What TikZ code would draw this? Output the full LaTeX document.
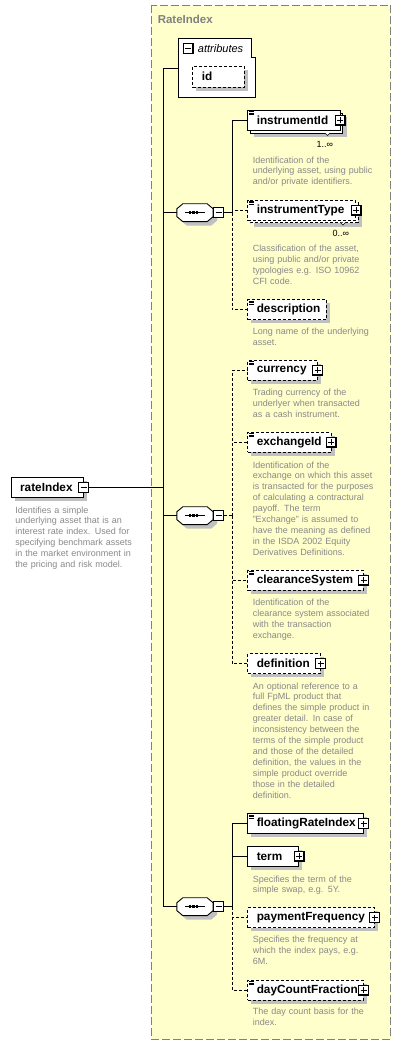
\documentclass[tikz,border=0pt]{standalone}
\usepackage{fontspec}
\setmainfont{Liberation Sans}
\definecolor{grpfill}{HTML}{FFFFCC}
\definecolor{doctext}{HTML}{888888}
\definecolor{headtext}{HTML}{808080}
\definecolor{shadowgray}{HTML}{C0C0C0}

\begin{document}
\begin{tikzpicture}[x=1pt,y=-1pt,line width=0.9pt,
  elem/.style={draw,fill=white,anchor=north west,minimum height=20pt,inner xsep=9pt,inner ysep=0pt,text width=#1,align=left,font=\fontsize{11.8}{14}\selectfont\bfseries},
  opt/.style={dash pattern=on 3pt off 2pt},
  docmark/.style={path picture={\foreach \k in {1.3,2.8,4.3} \draw[solid,line width=0.7pt] ([xshift=1.5pt,yshift=-\k pt]path picture bounding box.north west) -- ++(5pt,0pt);}},
  iconedge/.style={draw,solid,fill=white,minimum width=10pt,minimum height=10pt,inner sep=0pt,line width=0.8pt},
  expandbox/.style={iconedge,path picture={
      \draw[line width=2pt] (path picture bounding box.north east) -- (path picture bounding box.south east) -- (path picture bounding box.south west);
      \draw[line width=0.8pt] ([xshift=-3pt]path picture bounding box.center) -- ([xshift=3pt]path picture bounding box.center) ([yshift=-3pt]path picture bounding box.center) -- ([yshift=3pt]path picture bounding box.center);}},
  collapsebox/.style={iconedge,path picture={
      \draw[line width=2pt] (path picture bounding box.north east) -- (path picture bounding box.south east) -- (path picture bounding box.south west);
      \draw[line width=0.8pt] ([xshift=-3pt]path picture bounding box.center) -- ([xshift=3pt]path picture bounding box.center);}},
  seqnode/.style={minimum width=35.4pt,minimum height=17pt,inner sep=0pt},
  seqpath/.style n args={3}{insert path={([shift={(#2,#3+5pt)}]#1.south west) -- ([shift={(#2,#3-5pt)}]#1.north west) -- ([shift={(#2+6pt,#3)}]#1.north west) -- ([shift={(#2-6pt,#3)}]#1.north east) -- ([shift={(#2,#3-5pt)}]#1.north east) -- ([shift={(#2,#3+5pt)}]#1.south east) -- ([shift={(#2-6pt,#3)}]#1.south east) -- ([shift={(#2+6pt,#3)}]#1.south west) -- cycle}},
  desc/.style={anchor=base west,inner sep=0pt,text width=140pt,align=left,font=\fontsize{9}{10.9}\selectfont,text=doctext},
  multi/.style={anchor=base east,inner sep=0pt,font=\fontsize{9}{11}\selectfont}]

\useasboundingbox (0,0) rectangle (402,1045);

% group RateIndex
\draw[headtext,line width=1pt,dash pattern=on 8pt off 3pt,fill=grpfill] (151,5.3) rectangle (390.7,1039);
\node[anchor=base west,inner sep=0pt,text=headtext,font=\fontsize{11.5}{14}\selectfont\bfseries] (groupLabel) at (157.3,23.3) {RateIndex};

% shadows
\fill[shadowgray] (14.7,481.3) rectangle (86.7,501.3);
\fill[shadowgray] (254.3,117) rectangle (346.5,137);
\draw[fill=white] (250.3,113) rectangle (342.5,133);
\fill[shadowgray] (254.3,206.5) rectangle (362,226.5);
\draw[fill=white,opt] (250.3,202.5) rectangle (358,222.5);
\fill[shadowgray] (251.3,303.3) rectangle (329.7,323.3);
\fill[shadowgray] (251.3,364) rectangle (320.7,384);
\fill[shadowgray] (251.3,436) rectangle (334.5,456);
\fill[shadowgray] (251.3,574) rectangle (366.7,594);
\fill[shadowgray] (251.3,657.3) rectangle (323.7,677.3);
\fill[shadowgray] (251.3,817.3) rectangle (366.7,837.3);
\fill[shadowgray] (251.3,850) rectangle (302,870);
\fill[shadowgray] (251.3,911.3) rectangle (377.8,931.3);
\fill[shadowgray] (251.3,984) rectangle (366.8,1004);

% root element
\node[elem=54pt] (rateIndex) at (10.7,477.3) {rateIndex};
\node[collapsebox] (rateIndexM) at (rateIndex.east) {};
\node[desc] (rateIndexD) at (15,513) {Identifies a simple\\underlying asset that is an\\interest rate index. Used for\\specifying benchmark assets\\in the market environment in\\the pricing and risk model.};

% attributes
\draw[fill=white] (178,38.3) -- (251,38.3) -- (251,57.7) -- (255.7,57.7) -- (255.7,97.3) -- (178,97.3) -- cycle;
\node[collapsebox] (attributesM) at (188.3,48.5) {};
\node[anchor=base west,inner sep=0pt,font=\fontsize{11}{13}\selectfont\itshape] (attributes) at (197.5,52) {attributes};
\fill[shadowgray] (196.3,69.7) rectangle (248,90.7);
\node[elem=33.7pt,opt,minimum height=21pt] (id) at (192.3,65.7) {id};
\coordinate (trunk) at (163.3,68.3);
\coordinate (attrIn) at (178,68.3);

% sequences
\node[seqnode] (seqA) at (195,212.7) {};
\node[seqnode] (seqB) at (195,515.7) {};
\node[seqnode] (seqC) at (195,906.7) {};
\foreach \n in {seqA,seqB,seqC} {
  \fill[shadowgray,seqpath={\n}{4pt}{-4pt}];
  \draw[fill=white,seqpath={\n}{0pt}{0pt}];
  \draw ([xshift=-10pt]\n.center) -- ([xshift=10pt]\n.center);
  \foreach \d in {-5,-1.5,2} \fill ([xshift=\d pt]\n.center) +(-1.3pt,-1.3pt) rectangle +(1.3pt,1.3pt);
}
\node[collapsebox,anchor=west] (seqAM) at (seqA.east) {};
\node[collapsebox,anchor=west] (seqBM) at (seqB.east) {};
\node[collapsebox,anchor=west] (seqCM) at (seqC.east) {};
\coordinate (brA) at (232.3,212.7);
\coordinate (brB) at (232.3,515.7);
\coordinate (brC) at (232.3,906.7);

% first sequence
\node[elem=74.2pt,docmark] (instrumentId) at (247.3,110) {instrumentId};
\node[expandbox] (instrumentIdX) at (instrumentId.east) {};
\draw[fill=white,line width=0.6pt] (325,133) -- (327.5,135.5) -- (330,133);
\node[multi] (instrumentIdN) at (333.5,147.5) {1..∞};
\node[desc] (instrumentIdD) at (252.3,163) {Identification of the\\underlying asset, using public\\and/or private identifiers.};

\node[elem=89.7pt,opt,docmark] (instrumentType) at (247.3,199.5) {instrumentType};
\node[expandbox] (instrumentTypeX) at (instrumentType.east) {};
\draw[fill=white,line width=0.6pt] (340.5,222.5) -- (343,225) -- (345.5,222.5);
\node[multi] (instrumentTypeN) at (349.5,236) {0..∞};
\node[desc] (instrumentTypeD) at (252.3,251.3) {Classification of the asset,\\using public and/or private\\typologies e.g. ISO 10962\\CFI code.};

\node[elem=60.4pt,opt,docmark] (description) at (247.3,299.3) {description};
\node[desc] (descriptionD) at (252.3,334.7) {Long name of the underlying\\asset.};

% second sequence
\node[elem=51.4pt,opt,docmark] (currency) at (247.3,360) {currency};
\node[expandbox] (currencyX) at (currency.east) {};
\node[desc] (currencyD) at (252.3,395.7) {Trading currency of the\\underlyer when transacted\\as a cash instrument.};

\node[elem=65.2pt,opt,docmark] (exchangeId) at (247.3,432) {exchangeId};
\node[expandbox] (exchangeIdX) at (exchangeId.east) {};
\node[desc] (exchangeIdD) at (252.3,468) {Identification of the\\exchange on which this asset\\is transacted for the purposes\\of calculating a contractural\\payoff. The term\\"Exchange" is assumed to\\have the meaning as defined\\in the ISDA 2002 Equity\\Derivatives Definitions.};

\node[elem=97.4pt,opt,docmark] (clearanceSystem) at (247.3,570) {clearanceSystem};
\node[expandbox] (clearanceSystemX) at (clearanceSystem.east) {};
\node[desc] (clearanceSystemD) at (252.3,605.7) {Identification of the\\clearance system associated\\with the transaction\\exchange.};

\node[elem=54.4pt,opt] (definition) at (247.3,653.3) {definition};
\node[expandbox] (definitionX) at (definition.east) {};
\node[desc] (definitionD) at (252.3,689) {An optional reference to a\\full FpML product that\\defines the simple product in\\greater detail. In case of\\inconsistency between the\\terms of the simple product\\and those of the detailed\\definition, the values in the\\simple product override\\those in the detailed\\definition.};

% third sequence
\node[elem=97.4pt,docmark] (floatingRateIndex) at (247.3,813.3) {floatingRateIndex};
\node[expandbox] (floatingRateIndexX) at (floatingRateIndex.east) {};

\node[elem=32.7pt] (term) at (247.3,846) {term};
\node[expandbox] (termX) at (term.east) {};
\node[desc] (termD) at (252.3,882) {Specifies the term of the\\simple swap, e.g. 5Y.};

\node[elem=108.5pt,opt] (paymentFrequency) at (247.3,907.3) {paymentFrequency};
\node[expandbox] (paymentFrequencyX) at (paymentFrequency.east) {};
\node[desc] (paymentFrequencyD) at (252.3,942.3) {Specifies the frequency at\\which the index pays, e.g.\\6M.};

\node[elem=97.5pt,opt,docmark] (dayCountFraction) at (247.3,980) {dayCountFraction};
\node[expandbox] (dayCountFractionX) at (dayCountFraction.east) {};
\node[desc] (dayCountFractionD) at (252.3,1014.7) {The day count basis for the\\index.};

% connectors
\draw (attrIn) -- (trunk) |- (seqC.west);
\draw (rateIndexM.east) -- (rateIndexM.east -| trunk);
\draw (seqA.west -| trunk) -- (seqA.west);
\draw (seqB.west -| trunk) -- (seqB.west);

\draw (seqAM.east) -- (brA);
\draw (brA) |- (instrumentId.west);
\draw[opt] (brA) |- (instrumentType.west);
\draw[opt] (brA) |- (description.west);

\draw[opt] (seqBM.east) -- (brB);
\draw[opt] (brB) |- (currency.west);
\draw[opt] (brB) |- (exchangeId.west);
\draw[opt] (brB) |- (clearanceSystem.west);
\draw[opt] (brB) |- (definition.west);

\draw (seqCM.east) -- (brC);
\draw (brC) |- (floatingRateIndex.west);
\draw (brC) |- (term.west);
\draw[opt] (brC) |- (paymentFrequency.west);
\draw[opt] (brC) |- (dayCountFraction.west);
\end{tikzpicture}
\end{document}
